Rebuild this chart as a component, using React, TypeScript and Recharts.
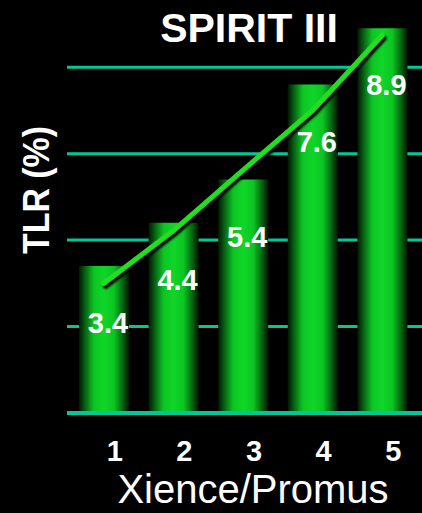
import {
  Bar,
  CartesianGrid,
  ComposedChart,
  LabelList,
  Line,
  XAxis,
  YAxis,
} from 'recharts';

const groups = ['1', '2', '3', '4', '5'];
const tlr = [3.4, 4.4, 5.4, 7.6, 8.9];
const trend = [3.0, 4.22, 5.62, 7.0, 8.74];
const yTicks = [0, 2, 4, 6, 8];

const data = groups.map((g, i) => ({ group: g, tlr: tlr[i], trend: trend[i] }));

const FONT = '"Liberation Sans", Arial, Helvetica, sans-serif';
const GRID = '#00c896';

const GroupTick = (props: any) => {
  const { x, y, payload } = props;
  return (
    <text
      x={x + 11}
      y={y + 48}
      textAnchor="middle"
      fill="#fff"
      fontFamily={FONT}
      fontWeight="bold"
      fontSize={29}
    >
      {payload.value}
    </text>
  );
};

const ValueLabel = (props: any) => {
  const { x, y, width, value } = props;
  return (
    <text
      x={x + width / 2 + 4}
      y={y + 57}
      textAnchor="middle"
      dominantBaseline="central"
      fill="#fff"
      fontFamily={FONT}
      fontWeight="bold"
      fontSize={29}
    >
      {value}
    </text>
  );
};

export default function App() {
  return (
    <div
      style={{
        position: 'absolute',
        left: 0,
        top: 0,
        width: 422,
        height: 513,
        background: '#000',
        overflow: 'hidden',
      }}
    >
      <ComposedChart
        width={422}
        height={513}
        data={data}
        margin={{ top: 24, right: 0, bottom: 0, left: 67 }}
      >
        <defs>
          <linearGradient id="barGlow" x1="0" y1="0" x2="1" y2="0">
            <stop offset="0%" stopColor="#001800" />
            <stop offset="12%" stopColor="#065f12" />
            <stop offset="30%" stopColor="#0cc522" />
            <stop offset="50%" stopColor="#0fd628" />
            <stop offset="70%" stopColor="#0cc522" />
            <stop offset="88%" stopColor="#066012" />
            <stop offset="100%" stopColor="#001800" />
          </linearGradient>
          <filter id="lineShadow" x="-10%" y="-10%" width="130%" height="130%">
            <feDropShadow dx="2" dy="3" stdDeviation="1" floodColor="#000" floodOpacity="1" />
          </filter>
        </defs>
        <CartesianGrid
          vertical={false}
          stroke={GRID}
          strokeWidth={3}
          horizontalValues={yTicks.slice(1)}
        />
        <XAxis
          dataKey="group"
          height={100}
          padding={{ left: 2, right: 5 }}
          axisLine={{ stroke: GRID, strokeWidth: 4 }}
          tickLine={false}
          tickSize={0}
          tickMargin={0}
          tick={<GroupTick />}
        />
        <YAxis hide domain={[0, 9]} ticks={yTicks} />
        <Bar dataKey="tlr" fill="url(#barGlow)" barSize={50} isAnimationActive={false}>
          <LabelList dataKey="tlr" content={<ValueLabel />} />
        </Bar>
        <Line
          type="linear"
          dataKey="trend"
          stroke="#22dd22"
          strokeWidth={5}
          strokeLinecap="round"
          dot={false}
          activeDot={false}
          filter="url(#lineShadow)"
          isAnimationActive={false}
        />
        <text
          x={249}
          y={42}
          textAnchor="middle"
          fill="#fff"
          fontFamily={FONT}
          fontWeight="bold"
          fontSize={41}
        >
          SPIRIT III
        </text>
        <text
          transform="translate(49 190) rotate(-90)"
          textAnchor="middle"
          fill="#fff"
          fontFamily={FONT}
          fontWeight="bold"
          fontSize={36}
          textLength={128}
          lengthAdjust="spacingAndGlyphs"
        >
          TLR (%)
        </text>
        <text
          x={253}
          y={503}
          textAnchor="middle"
          fill="#fff"
          fontFamily={FONT}
          fontSize={40}
        >
          Xience/Promus
        </text>
      </ComposedChart>
    </div>
  );
}
